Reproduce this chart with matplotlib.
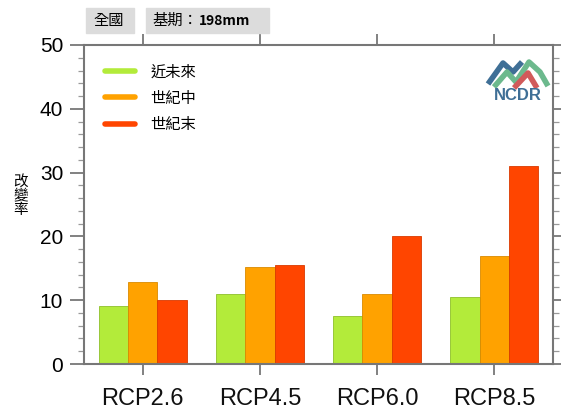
import numpy as np
import matplotlib.pyplot as plt
from matplotlib.lines import Line2D
from matplotlib.patches import Rectangle
from matplotlib.ticker import MultipleLocator

plt.rcParams['font.family'] = ['Liberation Sans', 'Noto Sans CJK TC', 'DejaVu Sans']
cjk = ['Noto Sans CJK TC', 'DejaVu Sans']

# 資料
scenarios = ['RCP2.6', 'RCP4.5', 'RCP6.0', 'RCP8.5']
periods = ['近未來', '世紀中', '世紀末']
near = [9.1, 10.9, 7.5, 10.5]
mid = [12.9, 15.2, 10.9, 16.9]
end = [10.1, 15.5, 20.1, 31.0]
series = [near, mid, end]
colors = ['#b3eb3a', '#ffa200', '#ff4500']
edge = ['#8fc02a', '#d98a00', '#d93a00']

fig = plt.figure(figsize=(5.61, 4.11), dpi=100)
W, H = 561, 411
ax = fig.add_axes([84 / W, 1 - 364 / H, (553 - 84) / W, (364 - 45) / H])

x = np.arange(len(scenarios))
w = 0.25
for i, vals in enumerate(series):
    ax.bar(x + (i - 1) * w, vals, width=w, color=colors[i],
           edgecolor=edge[i], linewidth=0.6, zorder=2)

ax.set_xlim(-0.5, 3.5)
ax.set_ylim(0, 50)
ax.set_xticks(x)
ax.set_xticklabels(scenarios, fontsize=17, color='#111111')
ax.yaxis.set_major_locator(MultipleLocator(10))
ax.yaxis.set_minor_locator(MultipleLocator(2))
ax.tick_params(axis='y', which='major', length=10, width=1.3, color='#777777',
               labelsize=15, pad=5, right=True, direction='out')
ax.tick_params(axis='y', which='minor', length=4, width=0.9, color='#999999',
               right=True, direction='out')
ax.tick_params(axis='x', which='major', length=8, width=1.3, color='#777777',
               top=True, direction='out', pad=9)
for sp in ax.spines.values():
    sp.set_color('#777777')
    sp.set_linewidth(1.5)

# y 軸標題（直排）
fig.text(21 / W, 1 - 196 / H, '改\n變\n率', family=cjk, fontsize=10.5,
         ha='center', va='center', linespacing=1.0)

# 圖例
handles = [Line2D([], [], color=c, lw=4, solid_capstyle='round') for c in colors]
ax.legend(handles, periods, loc='upper left', bbox_to_anchor=(0.015, 0.985),
          frameon=False, prop={'family': cjk, 'size': 11},
          handlelength=2.0, handletextpad=1.0, labelspacing=0.6)

# 標頭
fig.patches.append(Rectangle((86 / W, 1 - 33 / H), 48 / W, 25 / H,
                             transform=fig.transFigure, color='#dcdcdc', zorder=0))
fig.patches.append(Rectangle((146 / W, 1 - 33 / H), 123 / W, 25 / H,
                             transform=fig.transFigure, color='#dcdcdc', zorder=0))
fig.text(93 / W, 1 - 20.5 / H, '全國', family=cjk, fontsize=11, va='center')
fig.text(152 / W, 1 - 20.5 / H, '基期：', family=cjk, fontsize=11, va='center')
fig.text(199 / W, 1 - 21 / H, '198mm', family=cjk, fontsize=10,
         fontweight='bold', va='center')

# NCDR 標誌
def px(xp, yp):
    return (xp - 84) / 469, 1 - (yp - 45) / 319

def poly(pts, color):
    xs, ys = zip(*[px(a, b) for a, b in pts])
    ax.plot(xs, ys, color=color, lw=4, transform=ax.transAxes,
            solid_capstyle='butt', solid_joinstyle='round', zorder=3)

poly([(488, 84), (503, 63), (513, 72), (522, 62)], '#3f6f96')
poly([(494, 87), (507, 72), (516, 82), (529, 62), (540, 72), (548, 86)], '#6cb98d')
poly([(514, 88), (528, 73), (537, 88)], '#d15a5a')
tx, ty = px(518, 95)
ax.text(tx, ty, 'NCDR', transform=ax.transAxes, fontsize=12, fontweight='bold',
        color='#3f6f96', ha='center', va='center', zorder=3)

fig.savefig('out.png', dpi=100)
